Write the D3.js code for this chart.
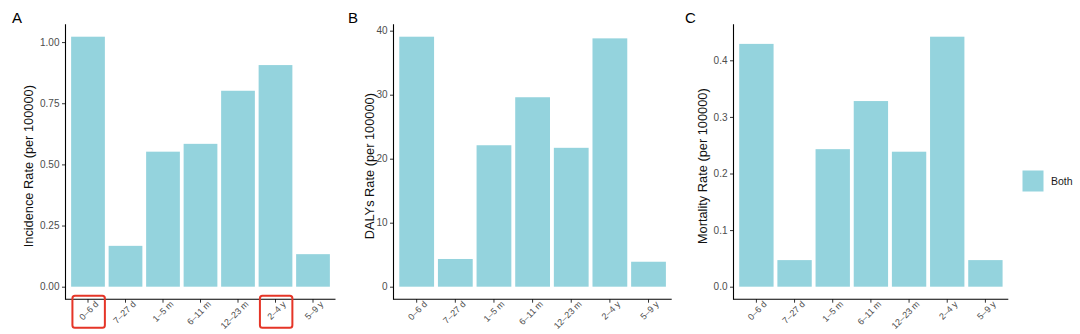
<!DOCTYPE html>
<html><head><meta charset="utf-8">
<script src="https://cdn.jsdelivr.net/npm/d3@7"></script>
<style>
body{margin:0;background:#fff;}
text{font-family:"Liberation Sans",Arial,sans-serif;}
</style></head>
<body><svg id="c" width="1080" height="334"></svg>
<script>
const categories = ["0\u20136 d","7\u201327 d","1\u20135 m","6\u201311 m","12\u201323 m","2\u20134 y","5\u20139 y"];
const incidence = [1.022, 0.167, 0.552, 0.584, 0.801, 0.906, 0.133];
const dalys = [39.06, 4.33, 22.1, 29.6, 21.7, 38.8, 3.9];
const mortality = [0.429, 0.047, 0.243, 0.328, 0.2385, 0.4417, 0.047];
const incidenceTicks = [0, 0.25, 0.5, 0.75, 1.0];
const dalysTicks = [0, 10, 20, 30, 40];
const mortalityTicks = [0, 0.1, 0.2, 0.3, 0.4];
const legendLabels = ["Both"];
const highlighted = ["0\u20136 d", "2\u20134 y"];

const barColor = "#94d3dd";
const svg = d3.select("#c");

const panels = [
  {tag:"A", title:"Incidence Rate (per 100000)", values:incidence, ticks:incidenceTicks, fmt:d3.format(".2f"), x0:65.5, x1:335.5, titleX:29, tagX:12, highlight:true},
  {tag:"B", title:"DALYs Rate (per 100000)", values:dalys, ticks:dalysTicks, fmt:d3.format("d"), x0:393.5, x1:671.7, titleX:369.5, tagX:348, highlight:false},
  {tag:"C", title:"Mortality Rate (per 100000)", values:mortality, ticks:mortalityTicks, fmt:d3.format(".1f"), x0:733.5, x1:1008.3, titleX:703, tagX:685, highlight:false}
];
const yTop = 24.2, yBot = 299.2;

panels.forEach(p => {
  const max = d3.max(p.values);
  const y = d3.scaleLinear().domain([-0.05*max, max*1.05]).range([yBot, yTop]);
  const x = d3.scaleBand().domain(categories).range([p.x0, p.x1]).paddingInner(0.1).paddingOuter(0.15);
  const g = svg.append("g");

  g.selectAll("rect.bar").data(p.values).join("rect").attr("class","bar")
    .attr("x",(d,i)=>x(categories[i])).attr("width",x.bandwidth())
    .attr("y",d=>y(d)).attr("height",d=>y(0)-y(d)).attr("fill",barColor);

  const ya = g.append("g").attr("transform",`translate(${p.x0},0)`)
    .call(d3.axisLeft(y).tickValues(p.ticks).tickFormat(p.fmt).tickSize(3.5).tickPadding(2.5));
  ya.select(".domain").remove();
  ya.selectAll(".tick line").attr("stroke","#333").attr("stroke-width",1);
  ya.selectAll(".tick text").attr("fill","#4d4d4d").style("font-size","10px");

  const xa = g.append("g").attr("transform",`translate(0,${yBot})`)
    .call(d3.axisBottom(x).tickSize(3.5).tickSizeOuter(0));
  xa.select(".domain").remove();
  xa.selectAll(".tick line").attr("stroke","#333").attr("stroke-width",1);
  xa.selectAll(".tick text").attr("fill","#4d4d4d").style("font-size","9px")
    .attr("text-anchor","end").attr("y",0).attr("dy",0)
    .attr("transform","translate(11,5.5) rotate(-45)");

  g.append("line").attr("x1",p.x0).attr("x2",p.x0).attr("y1",yTop).attr("y2",yBot+0.5).attr("stroke","#000").attr("stroke-width",1.1);
  g.append("line").attr("x1",p.x0).attr("x2",p.x1).attr("y1",yBot).attr("y2",yBot).attr("stroke","#000").attr("stroke-width",1.1);

  g.append("text").attr("transform",`translate(${p.titleX},${(yTop+yBot)/2+4.5}) rotate(-90)`)
    .attr("text-anchor","middle").attr("dy","0.35em").style("font-size","12.8px").attr("fill","#111").text(p.title);
  g.append("text").attr("x",p.tagX).attr("y",22.7).style("font-size","15px").attr("fill","#000").text(p.tag);

  if (p.highlight) {
    g.selectAll("rect.hl").data(highlighted).join("rect").attr("class","hl")
      .attr("x",d=>x(d)+1.3).attr("width",x.bandwidth()-1.3)
      .attr("y",yBot-3.5).attr("height",32).attr("rx",2.5)
      .attr("fill","none").attr("stroke","#e53527").attr("stroke-width",2);
  }
});

const lg = svg.append("g").attr("transform","translate(1022.5,170.5)");
lg.selectAll("rect").data(legendLabels).join("rect").attr("width",21).attr("height",21).attr("fill",barColor);
lg.selectAll("text").data(legendLabels).join("text").attr("x",28.5).attr("y",10.5).attr("dy","0.35em")
  .style("font-size","10.5px").attr("fill","#1a1a1a").text(d=>d);
</script></body></html>
